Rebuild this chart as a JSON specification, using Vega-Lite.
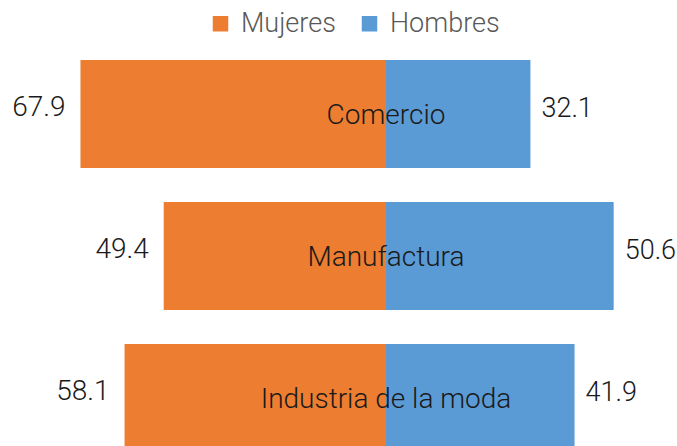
{
  "$schema": "https://vega.github.io/schema/vega-lite/v6.json",
  "width": 677,
  "height": 412,
  "autosize": "none",
  "padding": {"top": 50, "left": 0, "right": 0, "bottom": 0},
  "background": "white",
  "config": {"view": {"stroke": null}, "font": "Roboto"},
  "data": {
    "values": [
      {"sector": "Comercio", "sexo": "Mujeres", "valor": 67.9},
      {"sector": "Comercio", "sexo": "Hombres", "valor": 32.1},
      {"sector": "Manufactura", "sexo": "Mujeres", "valor": 49.4},
      {"sector": "Manufactura", "sexo": "Hombres", "valor": 50.6},
      {"sector": "Industria de la moda", "sexo": "Mujeres", "valor": 58.1},
      {"sector": "Industria de la moda", "sexo": "Hombres", "valor": 41.9}
    ]
  },
  "transform": [
    {"calculate": "datum.sexo === 'Mujeres' ? -datum.valor : datum.valor", "as": "pos"}
  ],
  "encoding": {
    "y": {
      "field": "sector",
      "type": "nominal",
      "sort": null,
      "axis": null,
      "scale": {"paddingInner": 0.24, "paddingOuter": 0.07}
    }
  },
  "layer": [
    {
      "mark": {"type": "bar"},
      "encoding": {
        "x": {
          "field": "pos",
          "type": "quantitative",
          "scale": {"domain": [-85.78, 64.67], "nice": false, "zero": false},
          "axis": null
        },
        "x2": {"datum": 0},
        "color": {
          "field": "sexo",
          "type": "nominal",
          "scale": {"domain": ["Mujeres", "Hombres"], "range": ["#ED7D31", "#5B9BD5"]},
          "legend": {
            "orient": "none",
            "legendX": 207,
            "legendY": -40,
            "direction": "horizontal",
            "title": null,
            "symbolType": "square",
            "symbolSize": 240,
            "symbolStrokeWidth": 0,
            "symbolOpacity": 1,
            "labelFontSize": 27,
            "labelFont": "Roboto",
            "labelFontWeight": 300,
            "labelColor": "#595959",
            "labelOffset": 7,
            "columnPadding": 20
          }
        }
      }
    },
    {
      "transform": [{"filter": "datum.sexo === 'Mujeres'"}],
      "mark": {"type": "text", "align": "right", "baseline": "middle", "dx": -15, "dy": -6, "fontSize": 28, "fontWeight": 300, "color": "#1a1a1a"},
      "encoding": {
        "x": {"field": "pos", "type": "quantitative"},
        "text": {"field": "valor", "type": "quantitative", "format": ".1f"}
      }
    },
    {
      "transform": [{"filter": "datum.sexo === 'Hombres'"}],
      "mark": {"type": "text", "align": "left", "baseline": "middle", "dx": 11, "dy": -5, "fontSize": 27, "fontWeight": 300, "color": "#1a1a1a"},
      "encoding": {
        "x": {"field": "pos", "type": "quantitative"},
        "text": {"field": "valor", "type": "quantitative", "format": ".1f"}
      }
    },
    {
      "transform": [{"filter": "datum.sexo === 'Mujeres'"}],
      "mark": {"type": "text", "align": "center", "baseline": "middle", "dy": 2, "fontSize": 28, "fontWeight": 300, "color": "#1a1a1a"},
      "encoding": {
        "x": {"datum": 0, "type": "quantitative"},
        "text": {"field": "sector", "type": "nominal"}
      }
    }
  ]
}
